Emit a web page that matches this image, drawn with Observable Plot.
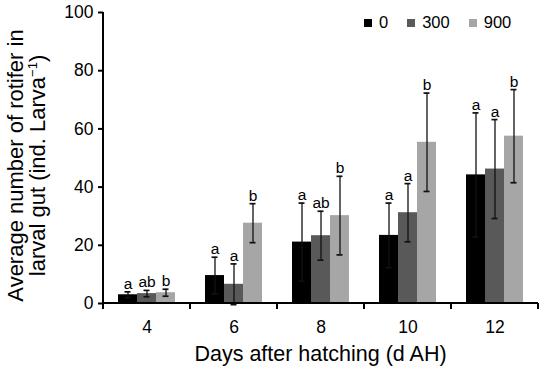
<!DOCTYPE html>
<html>
<head>
<meta charset="utf-8">
<script src="https://cdn.jsdelivr.net/npm/d3@7"></script>
<script src="https://cdn.jsdelivr.net/npm/@observablehq/plot@0.6"></script>
<style>
  body { margin: 0; background: #fff; }
  #wrap { position: relative; width: 545px; height: 367px; font-family: "Liberation Sans", Arial, sans-serif; }
  #legend { position: absolute; top: 13px; left: 364px; display: flex; align-items: center; font-size: 16.5px; color: #000; }
  #legend .sw { display: inline-block; width: 8px; height: 8px; margin-right: 7px; }
  #legend .it { display: flex; align-items: center; margin-right: 19px; }
</style>
</head>
<body>
<div id="wrap"><div id="legend"></div></div>
<script>
const days = [4, 6, 8, 10, 12];
const doses = ["0", "300", "900"];
const colors = ["#000000", "#595959", "#a6a6a6"];
const mean0 = [3.0, 9.6, 21.1, 23.4, 44.2];
const mean300 = [3.4, 6.6, 23.3, 31.2, 46.2];
const mean900 = [3.7, 27.6, 30.2, 55.4, 57.5];
const sd0 = [1.0, 6.3, 13.4, 11.1, 21.3];
const sd300 = [1.1, 7.0, 8.4, 10.0, 17.0];
const sd900 = [1.2, 6.7, 13.5, 16.9, 16.0];
const letters0 = ["a", "a", "a", "a", "a"];
const letters300 = ["ab", "a", "ab", "a", "a"];
const letters900 = ["b", "b", "b", "b", "b"];
const yTicks = [0, 20, 40, 60, 80, 100];

const means = [mean0, mean300, mean900];
const sds = [sd0, sd300, sd900];
const letters = [letters0, letters300, letters900];
const data = days.flatMap((day, i) => doses.map((dose, j) => ({
  day, dose, mean: means[j][i], sd: sds[j][i], letter: letters[j][i]
})));

const plot = Plot.plot({
  width: 545,
  height: 367,
  marginLeft: 101,
  marginRight: 5,
  marginTop: 12,
  marginBottom: 64,
  style: { fontFamily: "Liberation Sans, Arial, sans-serif", fontSize: "17.5px", color: "#000", background: "#fff" },
  fx: { domain: days, padding: 0, label: null },
  x: { domain: doses, paddingInner: 0, paddingOuter: 0.78, axis: null },
  y: { domain: [0, 100], ticks: yTicks, label: null },
  color: { domain: doses, range: colors },
  marks: [
    Plot.axisY({ ticks: yTicks, tickSize: 5, tickPadding: 5, strokeWidth: 2, fontSize: 17.5, label: null }),
    Plot.axisFx({ anchor: "bottom", tickSize: 0, tickPadding: 17, fontSize: 17.5, label: null }),
    Plot.barY(data, { fx: "day", x: "dose", y: "mean", fill: "dose" }),
    Plot.ruleX(data, { fx: "day", x: "dose", y1: d => d.mean - d.sd, y2: d => d.mean + d.sd, stroke: "#111", strokeWidth: 1.3 }),
    Plot.tickY(data, { fx: "day", x: "dose", y: d => d.mean + d.sd, insetLeft: 6.5, insetRight: 6.5, stroke: "#111", strokeWidth: 1.7 }),
    Plot.tickY(data, { fx: "day", x: "dose", y: d => d.mean - d.sd, insetLeft: 6.5, insetRight: 6.5, stroke: "#111", strokeWidth: 1.7 }),
    Plot.text(data, { fx: "day", x: "dose", y: d => d.mean + d.sd, text: "letter", lineAnchor: "bottom", dy: -3, fontSize: 15.5, fill: "#000" })
  ]
});

// axis lines and category boundary ticks from the plot's own scales
const fx = plot.scale("fx");
const y = plot.scale("y");
const svg = d3.select(plot);
const g = svg.append("g").attr("stroke", "#000").attr("stroke-width", 2);
const x0 = fx.apply(days[0]);
const xEnd = fx.apply(days[days.length - 1]) + fx.bandwidth;
g.append("line").attr("x1", x0).attr("x2", x0).attr("y1", y.apply(0) + 1).attr("y2", y.apply(100));
g.append("line").attr("x1", x0).attr("x2", xEnd).attr("y1", y.apply(0)).attr("y2", y.apply(0));
const bounds = days.map(d => fx.apply(d)).concat([xEnd]);
bounds.forEach(b => g.append("line").attr("x1", b).attr("x2", b).attr("y1", y.apply(0)).attr("y2", y.apply(0) + 6));

// axis titles
const t = svg.append("g").attr("font-family", "Liberation Sans, Arial, sans-serif").attr("font-size", 22).attr("fill", "#000");
const yc = (y.apply(0) + y.apply(100)) / 2 + 8;
const yl = t.append("text").attr("transform", `translate(23,${yc}) rotate(-90)`).attr("text-anchor", "middle");
yl.append("tspan").attr("x", 0).text("Average number of rotifer in");
const yl2 = t.append("text").attr("transform", `translate(44.5,${yc}) rotate(-90)`).attr("text-anchor", "middle");
yl2.append("tspan").attr("x", 0).text("larval gut (ind. Larva");
yl2.append("tspan").attr("font-size", 13).attr("dy", "-0.6em").text("−1");
yl2.append("tspan").attr("font-size", 22).attr("dy", "0.36em").text(")");
t.append("text").attr("x", (x0 + xEnd) / 2).attr("y", 361).attr("font-size", 21.5).attr("text-anchor", "middle").text("Days after hatching (d AH)");

document.getElementById("wrap").appendChild(plot);
plot.style.position = "absolute"; plot.style.left = "0"; plot.style.top = "0";
document.getElementById("wrap").appendChild(document.getElementById("legend"));

const legend = d3.select("#legend");
doses.forEach((d, i) => {
  const it = legend.append("span").attr("class", "it");
  it.append("span").attr("class", "sw").style("background", colors[i]);
  it.append("span").text(d);
});
</script>
</body>
</html>
